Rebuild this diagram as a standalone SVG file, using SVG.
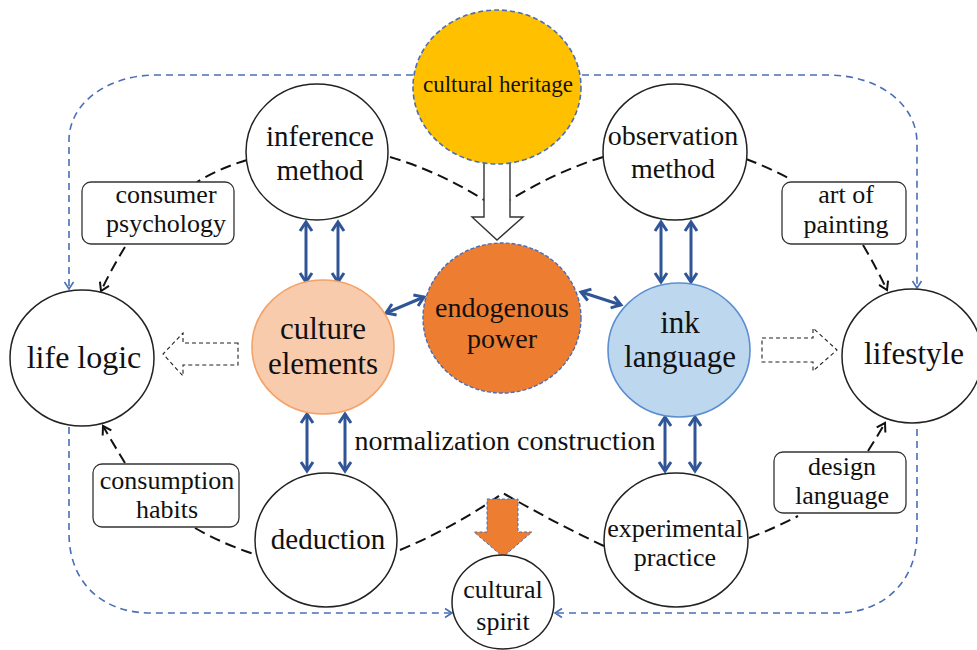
<svg xmlns="http://www.w3.org/2000/svg" width="977" height="650" viewBox="0 0 977 650">
  <defs>
    <style>
      text { fill: #111; text-anchor: middle; }
      .node { fill: #fff; stroke: #222; stroke-width: 1.5; }
      .box { fill: #fff; stroke: #333; stroke-width: 1.3; }
      .loop { fill: none; stroke: #4A6FB5; stroke-width: 1.6; stroke-dasharray: 7 5; }
      .flow { fill: none; stroke: #111; stroke-width: 2; stroke-dasharray: 11 6; }
      .link { fill: none; stroke: #2F5597; stroke-width: 3; }
      .ghost { fill: #fff; stroke: #222; stroke-width: 1.1; stroke-dasharray: 4 3; }
    </style>
    <marker id="blueTip" markerUnits="userSpaceOnUse" markerWidth="12" markerHeight="12" refX="9" refY="6" orient="auto">
      <path d="M2,1.5 L9,6 L2,10.5" fill="none" stroke="#4A6FB5" stroke-width="1.6"/>
    </marker>
    <marker id="blackTip" markerUnits="userSpaceOnUse" markerWidth="14" markerHeight="14" refX="10" refY="7" orient="auto">
      <path d="M2,2 L10,7 L2,12" fill="none" stroke="#111" stroke-width="2"/>
    </marker>
    <marker id="linkTip" markerUnits="userSpaceOnUse" markerWidth="16" markerHeight="16" refX="12" refY="8" orient="auto-start-reverse">
      <path d="M3,2 L12,8 L3,14" fill="none" stroke="#2F5597" stroke-width="3"/>
    </marker>
  </defs>

  <rect width="977" height="650" fill="#fff"/>

  <g id="connectors">
    <!-- outer blue dashed loop -->
    <path class="loop" d="M413,75 H157 C105,75 69,105 69,140 V289" marker-end="url(#blueTip)"/>
    <path class="loop" d="M582,75 H827 C880,75 917,105 917,143 V288" marker-end="url(#blueTip)"/>
    <path class="loop" d="M69,427 V533 C69,585 105,613 150,613 H452" marker-end="url(#blueTip)"/>
    <path class="loop" d="M917,429 V533 C917,585 880,613 837,613 H555" marker-end="url(#blueTip)"/>

    <!-- black dashed ring through the method nodes -->
    <path class="flow" d="M390,157 Q440,172 484,200"/>
    <path class="flow" d="M603,157 Q555,172 510,200"/>
    <path class="flow" d="M247,160 Q220,168 197,182"/>
    <path class="flow" d="M125,247 Q112,268 101,291" marker-end="url(#blackTip)"/>
    <path class="flow" d="M125,463 Q114,445 103,426" marker-end="url(#blackTip)"/>
    <path class="flow" d="M195,528 Q225,545 257,555"/>
    <path class="flow" d="M400,550 Q455,527 503,493 Q553,522 604,546"/>
    <path class="flow" d="M749,538 Q775,528 798,516"/>
    <path class="flow" d="M868,451 Q877,437 885,423" marker-end="url(#blackTip)"/>
    <path class="flow" d="M746,159 Q770,168 792,180"/>
    <path class="flow" d="M863,245 Q876,267 887,290" marker-end="url(#blackTip)"/>

    <!-- blue two-way links -->
    <line class="link" x1="306" y1="222" x2="306" y2="282" marker-start="url(#linkTip)" marker-end="url(#linkTip)"/>
    <line class="link" x1="338" y1="222" x2="338" y2="282" marker-start="url(#linkTip)" marker-end="url(#linkTip)"/>
    <line class="link" x1="307" y1="414" x2="307" y2="471" marker-start="url(#linkTip)" marker-end="url(#linkTip)"/>
    <line class="link" x1="345" y1="414" x2="345" y2="471" marker-start="url(#linkTip)" marker-end="url(#linkTip)"/>
    <line class="link" x1="661" y1="222" x2="661" y2="282" marker-start="url(#linkTip)" marker-end="url(#linkTip)"/>
    <line class="link" x1="691" y1="222" x2="691" y2="282" marker-start="url(#linkTip)" marker-end="url(#linkTip)"/>
    <line class="link" x1="665" y1="417" x2="665" y2="471" marker-start="url(#linkTip)" marker-end="url(#linkTip)"/>
    <line class="link" x1="695" y1="417" x2="695" y2="471" marker-start="url(#linkTip)" marker-end="url(#linkTip)"/>
    <line class="link" x1="386" y1="313" x2="424" y2="297" stroke-width="2.5" marker-start="url(#linkTip)" marker-end="url(#linkTip)"/>
    <line class="link" x1="581" y1="292" x2="621" y2="305" stroke-width="2.5" marker-start="url(#linkTip)" marker-end="url(#linkTip)"/>

    <!-- block arrows -->
    <polygon points="484,160 510,160 510,217 523,217 497,240 472,217 484,217" fill="#fff" stroke="#333" stroke-width="1.4"/>
    <polygon points="487,499 518,499 518,532 532,532 503,557 474,532 487,532" fill="#ED7D31" stroke="#4A6FB5" stroke-width="1" stroke-dasharray="3 2"/>
    <polygon class="ghost" points="238,343 183,343 183,333 163,354 183,376 183,365 238,365"/>
    <polygon class="ghost" points="762,338 813,338 813,328 837,350 813,371 813,362 762,362"/>
  </g>

  <g font-family="'Liberation Serif', 'Times New Roman', 'DejaVu Serif', serif">
  <g id="cultural-heritage">
    <ellipse cx="497" cy="87" rx="84" ry="77" fill="#FFC000" stroke="#4A6FB5" stroke-width="1.6" stroke-dasharray="5 3"/>
    <text x="498" y="92" font-size="23">cultural heritage</text>
  </g>

  <g id="inference-method">
    <ellipse class="node" cx="317" cy="152" rx="71" ry="68"/>
    <text x="320" y="146" font-size="29">inference</text>
    <text x="320" y="180" font-size="29">method</text>
  </g>

  <g id="observation-method">
    <ellipse class="node" cx="675" cy="152" rx="72" ry="68"/>
    <text x="673" y="145" font-size="28">observation</text>
    <text x="673" y="178" font-size="28">method</text>
  </g>

  <g id="consumer-psychology">
    <rect class="box" x="82" y="182" width="152" height="62" rx="9"/>
    <text x="166" y="203" font-size="26">consumer</text>
    <text x="166" y="232" font-size="26">psychology</text>
  </g>

  <g id="art-of-painting">
    <rect class="box" x="782" y="182" width="124" height="62" rx="9"/>
    <text x="846" y="203" font-size="26">art of</text>
    <text x="846" y="233" font-size="26">painting</text>
  </g>

  <g id="life-logic">
    <ellipse class="node" cx="82" cy="358" rx="72" ry="68"/>
    <text x="84" y="368" font-size="32">life logic</text>
  </g>

  <g id="lifestyle">
    <ellipse class="node" cx="912" cy="356" rx="70" ry="67"/>
    <text x="914" y="364" font-size="31">lifestyle</text>
  </g>

  <g id="culture-elements">
    <ellipse cx="323" cy="347" rx="71" ry="67" fill="#F8CBAD" stroke="#F4A268" stroke-width="1.6"/>
    <text x="323" y="339" font-size="31">culture</text>
    <text x="323" y="374" font-size="31">elements</text>
  </g>

  <g id="endogenous-power">
    <ellipse cx="502" cy="318" rx="79" ry="75" fill="#ED7D31" stroke="#4A6FB5" stroke-width="1.4" stroke-dasharray="4 2"/>
    <text x="502" y="317" font-size="28">endogenous</text>
    <text x="502" y="348" font-size="28">power</text>
  </g>

  <g id="ink-language">
    <ellipse cx="679" cy="350" rx="71" ry="67" fill="#BDD7EE" stroke="#5B8FD0" stroke-width="1.6"/>
    <text x="680" y="333" font-size="31">ink</text>
    <text x="680" y="367" font-size="31">language</text>
  </g>

  <g id="normalization-construction">
    <text x="505" y="450" font-size="28">normalization construction</text>
  </g>

  <g id="consumption-habits">
    <rect class="box" x="93" y="464" width="146" height="63" rx="9"/>
    <text x="167" y="489" font-size="26">consumption</text>
    <text x="167" y="518" font-size="26">habits</text>
  </g>

  <g id="design-language">
    <rect class="box" x="774" y="452" width="132" height="61" rx="9"/>
    <text x="842" y="475" font-size="26">design</text>
    <text x="842" y="504" font-size="26">language</text>
  </g>

  <g id="deduction">
    <ellipse class="node" cx="326" cy="540" rx="71" ry="67"/>
    <text x="328" y="549" font-size="29">deduction</text>
  </g>

  <g id="experimental-practice">
    <ellipse class="node" cx="676" cy="540" rx="72" ry="67"/>
    <text x="675" y="537" font-size="26">experimental</text>
    <text x="675" y="566" font-size="26">practice</text>
  </g>

  <g id="cultural-spirit">
    <ellipse class="node" cx="503" cy="602" rx="51" ry="47"/>
    <text x="503" y="598" font-size="26">cultural</text>
    <text x="503" y="630" font-size="26">spirit</text>
  </g>
  </g>
</svg>
